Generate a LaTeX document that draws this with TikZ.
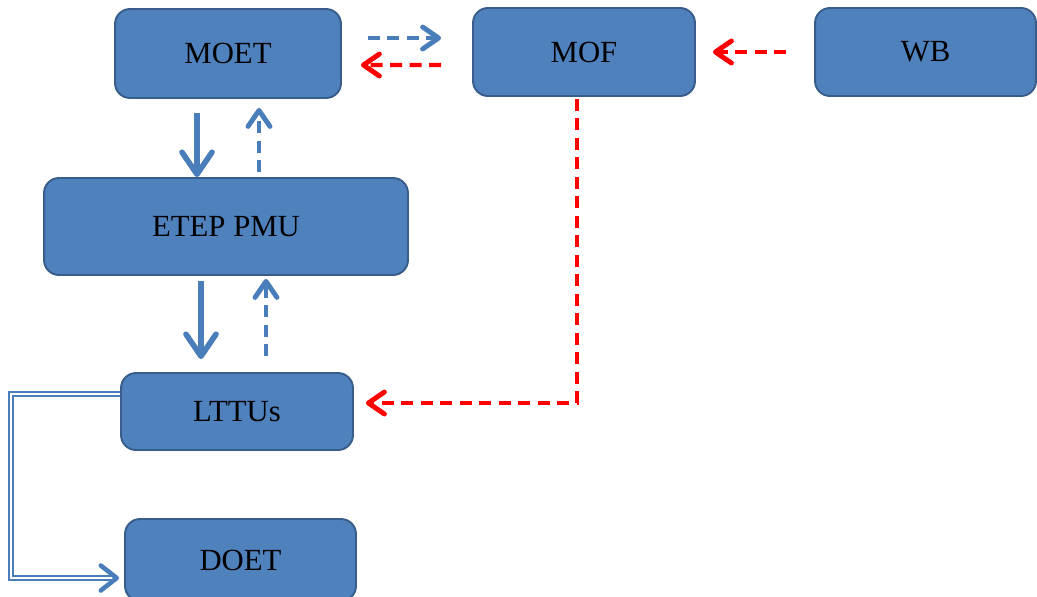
\documentclass[tikz,border=0pt]{standalone}
\usepackage{fontspec}
\setmainfont{Liberation Serif}
\usetikzlibrary{arrows.meta}
\definecolor{boxfill}{HTML}{4F81BD}
\definecolor{boxline}{HTML}{385D8A}
\definecolor{flowblue}{HTML}{4A7EBB}

\begin{document}
\begin{tikzpicture}[x=0.02cm,y=-0.02cm,
	main node/.style={rectangle,rounded corners=0.3cm,draw=boxline,fill=boxfill,
		line width=1.1pt,inner sep=0pt,font=\fontsize{17.5}{20}\selectfont},
	fund/.style={draw=flowblue,line width=3pt,
		-{Straight Barb[round,length=0.44cm,width=0.6cm,line width=3.2pt]}},
	report/.style={draw=flowblue,line width=2.4pt,dash pattern=on 0.24cm off 0.15cm,
		-{Straight Barb[round,length=0.32cm,width=0.44cm,line width=2.8pt]}},
	red report/.style={report,draw=red},
	link/.style={draw=flowblue,line width=1pt,double=white,double distance=0.05cm,
		-{Straight Barb[round,length=0.32cm,width=0.5cm,line width=2.6pt]}}]

	\useasboundingbox (0,0) rectangle (1037,596);

	\node[main node,minimum width=4.52cm,minimum height=1.78cm] (moet) at (228,53.5) {MOET};
	\node[main node,minimum width=4.44cm,minimum height=1.76cm] (mof) at (584,52) {MOF};
	\node[main node,minimum width=4.42cm,minimum height=1.76cm] (wb) at (925.5,52) {WB};
	\node[main node,minimum width=7.28cm,minimum height=1.94cm] (etep) at (226,226.5) {ETEP PMU};
	\node[main node,minimum width=4.64cm,minimum height=1.54cm] (lttus) at (237,411.5) {LTTUs};
	\node[main node,minimum width=4.62cm,minimum height=1.64cm] (doet) at (240.5,560) {DOET};

	\draw[report,shorten <=0.52cm,shorten >=0.62cm]
		([shift={(0,-15.5)}]moet.east) -- ([shift={(0,-14)}]mof.west);
	\draw[red report,shorten <=0.62cm,shorten >=0.38cm]
		([shift={(0,13)}]mof.west) -- ([shift={(0,11.5)}]moet.east);
	\draw[red report,shorten <=0.56cm,shorten >=0.34cm] (wb.west) -- (mof.east);
	\draw[red report,shorten <=0.04cm,shorten >=0.24cm]
		([shift={(-7,0)}]mof.south) |- ([shift={(0,-8.5)}]lttus.east);

	\draw[fund,shorten <=0.28cm] ([shift={(-31,0)}]moet.south) -- ([shift={(-29,0)}]etep.north);
	\draw[report,shorten <=0.1cm,shorten >=0.18cm] ([shift={(33,0)}]etep.north) -- ([shift={(31,0)}]moet.south);
	\draw[fund,shorten <=0.1cm,shorten >=0.26cm] ([shift={(-25,0)}]etep.south) -- ([shift={(-36,0)}]lttus.north);
	\draw[report,shorten <=0.32cm,shorten >=0.06cm] ([shift={(29,0)}]lttus.north) -- ([shift={(40,0)}]etep.south);

	\draw[link,shorten >=0.1cm] ([shift={(0,-17.5)}]lttus.west) -- ++(-109,0) |- ([shift={(0,18)}]doet.west);
\end{tikzpicture}
\end{document}
